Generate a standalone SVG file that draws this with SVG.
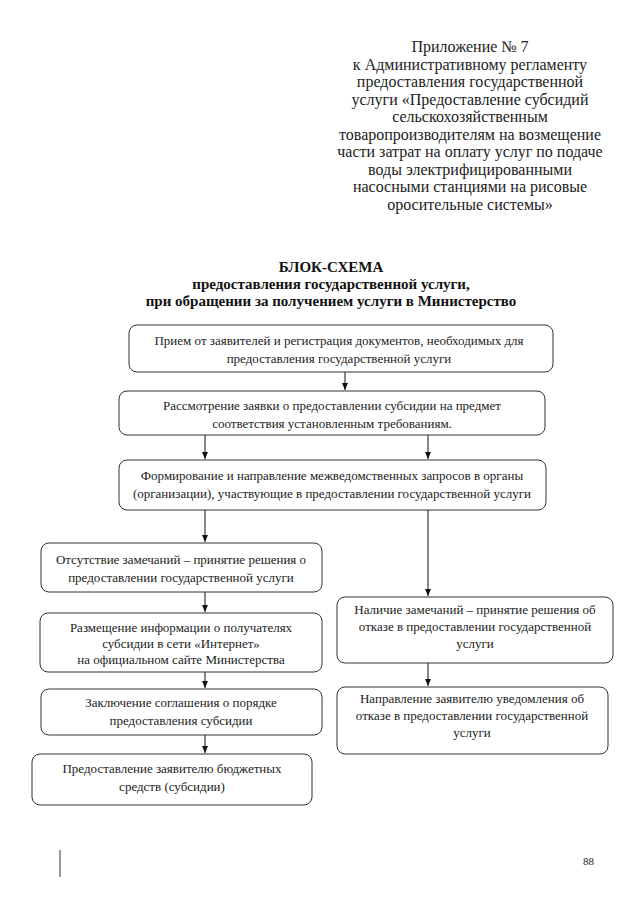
<svg xmlns="http://www.w3.org/2000/svg" width="640" height="905" viewBox="0 0 640 905">
<defs>
<marker id="ah" markerUnits="userSpaceOnUse" markerWidth="8" markerHeight="8" refX="7" refY="3" orient="auto">
<path d="M0,0 L7,3 L0,6 Z" fill="#111"/>
</marker>
<style>
text{font-family:'Liberation Serif','Times New Roman','DejaVu Serif',serif}
.box{fill:#fff;stroke:#333;stroke-width:1}
.t{font-size:13px;fill:#222;text-anchor:middle}
.h{font-size:16px;fill:#222;text-anchor:middle}
.b{font-size:15px;font-weight:bold;fill:#111;text-anchor:middle}
.c{stroke:#111;stroke-width:1;fill:none}
</style>
</defs>
<rect width="640" height="905" fill="#fff"/>
<g id="header">
<text class="h" x="470" y="52">Приложение № 7</text>
<text class="h" x="470" y="69.5">к Административному регламенту</text>
<text class="h" x="470" y="87">предоставления государственной</text>
<text class="h" x="470" y="104.5">услуги «Предоставление субсидий</text>
<text class="h" x="470" y="122">сельскохозяйственным</text>
<text class="h" x="470" y="139.5">товаропроизводителям на возмещение</text>
<text class="h" x="470" y="157">части затрат на оплату услуг по подаче</text>
<text class="h" x="470" y="174.5">воды электрифицированными</text>
<text class="h" x="470" y="192">насосными станциями на рисовые</text>
<text class="h" x="470" y="209.5">оросительные системы»</text>
</g>
<g id="title">
<text class="b" x="331" y="272">БЛОК-СХЕМА</text>
<text class="b" x="331" y="289">предоставления государственной услуги,</text>
<text class="b" x="331" y="306">при обращении за получением услуги в Министерство</text>
</g>
<g id="connectors">
<line class="c" x1="345" y1="372" x2="345" y2="390" marker-end="url(#ah)"/>
<line class="c" x1="205" y1="435" x2="205" y2="459" marker-end="url(#ah)"/>
<line class="c" x1="428" y1="435" x2="428" y2="459" marker-end="url(#ah)"/>
<line class="c" x1="205" y1="510" x2="205" y2="542" marker-end="url(#ah)"/>
<line class="c" x1="428" y1="510" x2="428" y2="596" marker-end="url(#ah)"/>
<line class="c" x1="205" y1="592" x2="205" y2="612" marker-end="url(#ah)"/>
<line class="c" x1="205" y1="672" x2="205" y2="688" marker-end="url(#ah)"/>
<line class="c" x1="205" y1="735" x2="205" y2="753" marker-end="url(#ah)"/>
<line class="c" x1="428" y1="663" x2="428" y2="686" marker-end="url(#ah)"/>
</g>
<g id="n1">
<rect class="box" x="129" y="325" width="424" height="47" rx="8"/>
<text class="t" x="339" y="345">Прием от заявителей и регистрация документов, необходимых для</text>
<text class="t" x="339" y="363">предоставления государственной услуги</text>
</g>
<g id="n2">
<rect class="box" x="119" y="391" width="426" height="44" rx="8"/>
<text class="t" x="332" y="410">Рассмотрение заявки о предоставлении субсидии на предмет</text>
<text class="t" x="332" y="428">соответствия установленным требованиям.</text>
</g>
<g id="n3">
<rect class="box" x="119" y="460" width="427" height="50" rx="8"/>
<text class="t" x="332" y="480">Формирование и направление межведомственных запросов в органы</text>
<text class="t" x="332" y="498">(организации), участвующие в предоставлении государственной услуги</text>
</g>
<g id="n4">
<rect class="box" x="41" y="543" width="281" height="49" rx="8"/>
<text class="t" x="181" y="564">Отсутствие замечаний – принятие решения о</text>
<text class="t" x="181" y="582">предоставлении государственной услуги</text>
</g>
<g id="n5">
<rect class="box" x="40" y="613" width="282" height="59" rx="8"/>
<text class="t" x="181" y="632">Размещение информации о получателях</text>
<text class="t" x="181" y="648">субсидии в сети «Интернет»</text>
<text class="t" x="181" y="664">на официальном сайте Министерства</text>
</g>
<g id="n6">
<rect class="box" x="41" y="689" width="281" height="46" rx="8"/>
<text class="t" x="181" y="707">Заключение соглашения о порядке</text>
<text class="t" x="181" y="725">предоставления субсидии</text>
</g>
<g id="n7">
<rect class="box" x="32" y="754" width="280" height="51" rx="8"/>
<text class="t" x="172" y="773">Предоставление заявителю бюджетных</text>
<text class="t" x="172" y="791">средств (субсидии)</text>
</g>
<g id="n8">
<rect class="box" x="337" y="597" width="276" height="66" rx="8"/>
<text class="t" x="475" y="614">Наличие замечаний – принятие решения об</text>
<text class="t" x="475" y="631">отказе в предоставлении государственной</text>
<text class="t" x="475" y="648">услуги</text>
</g>
<g id="n9">
<rect class="box" x="337" y="687" width="271" height="67" rx="8"/>
<text class="t" x="472" y="703">Направление заявителю уведомления об</text>
<text class="t" x="472" y="720">отказе в предоставлении государственной</text>
<text class="t" x="472" y="737">услуги</text>
</g>
<g id="footer">
<line x1="60" y1="850" x2="60" y2="877" stroke="#333" stroke-width="1"/>
<text x="594" y="865" font-size="11" fill="#222" text-anchor="end">88</text>
</g>
</svg>
